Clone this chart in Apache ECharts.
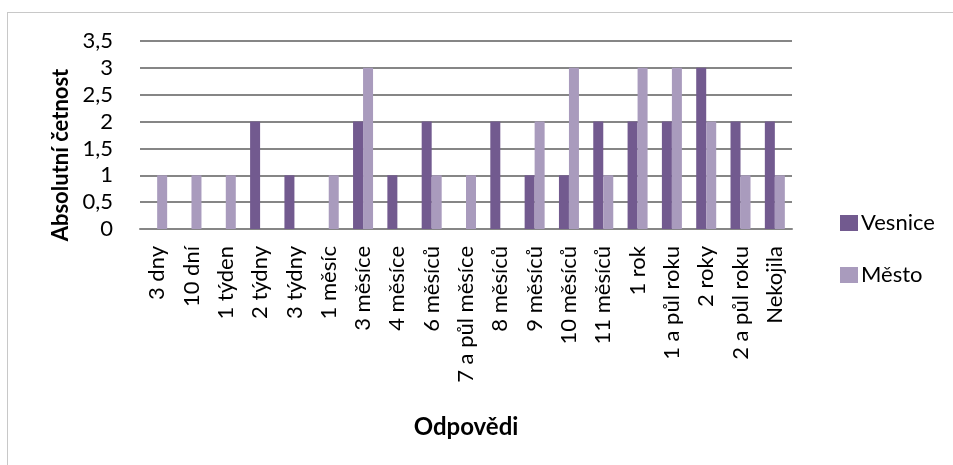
<!DOCTYPE html>
<html><head><meta charset="utf-8">
<script src="https://cdn.jsdelivr.net/npm/echarts@6/dist/echarts.min.js"></script>
<style>html,body{margin:0;padding:0;background:#fff}#c{width:953px;height:465px;position:relative}
#frame{position:absolute;left:7px;top:12px;width:960px;height:470px;border:1px solid #c8c8c8;box-sizing:border-box}</style>
</head><body><div id="c"></div><div id="frame"></div>
<script>
const categories = ['3 dny','10 dní','1 týden','2 týdny','3 týdny','1 měsíc','3 měsíce','4 měsíce','6 měsíců','7 a půl měsíce','8 měsíců','9 měsíců','10 měsíců','11 měsíců','1 rok','1 a půl roku','2 roky','2 a půl roku','Nekojila'];
const vesnice = [0,0,0,2,1,0,2,1,2,0,2,1,1,2,2,2,3,2,2];
const mesto   = [1,1,1,0,0,1,3,0,1,1,0,2,3,1,3,3,2,1,1];
const yTicks = {min:0,max:3.5,interval:0.5};
const seriesNames = ['Vesnice','Město'];

const font = 'Lato, "Open Sans", sans-serif';
const chart = echarts.init(document.getElementById('c'));
chart.setOption({
  animation:false,
  textStyle:{fontFamily:font},
  grid:{left:140,right:161,top:41,bottom:236,containLabel:false},
  legend:{
    orient:'vertical', left:835, top:207, itemWidth:18, itemHeight:16, itemGap:30,
    icon:'rect', textStyle:{fontSize:22,color:'#000',fontFamily:font,padding:[0,0,0,-2]},
    data:seriesNames
  },
  xAxis:{
    type:'category', data:categories,
    name:'Odpovědi', nameLocation:'middle', nameGap:186,
    nameTextStyle:{fontSize:24,fontWeight:'bold',color:'#000',fontFamily:font},
    axisLine:{lineStyle:{color:'#868686',width:2}},
    axisTick:{show:false},
    axisLabel:{rotate:90,interval:0,fontSize:22,color:'#000',margin:17,fontFamily:font}
  },
  yAxis:{
    type:'value', min:yTicks.min, max:yTicks.max, interval:yTicks.interval,
    name:'Absolutní četnost', nameLocation:'middle', nameGap:66,
    nameTextStyle:{fontSize:22,fontWeight:'bold',color:'#000',fontFamily:font,padding:[0,40,0,0]},
    axisLine:{show:false}, axisTick:{show:false},
    splitLine:{lineStyle:{color:'#868686',width:2}},
    axisLabel:{fontSize:22,color:'#000',margin:27,fontFamily:font,
      formatter:v=>String(v).replace('.',',')}
  },
  series:[
    {name:seriesNames[0],type:'bar',data:vesnice,barWidth:10,barGap:'0%',itemStyle:{color:'#725A8F'}},
    {name:seriesNames[1],type:'bar',data:mesto,barWidth:10,barGap:'0%',itemStyle:{color:'#A99BBD'}}
  ]
});
</script></body></html>
